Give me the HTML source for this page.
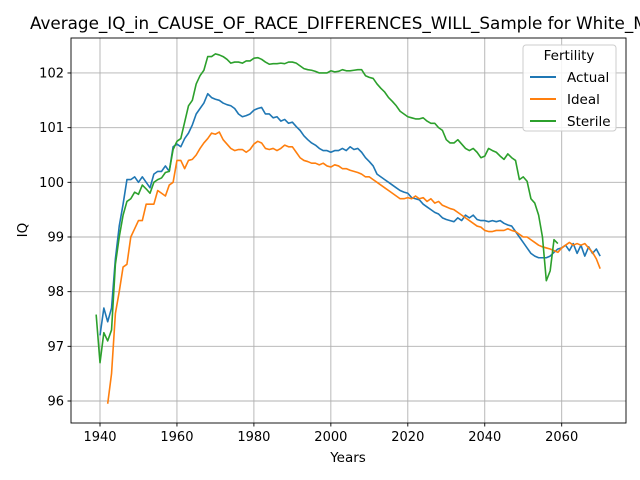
<!DOCTYPE html>
<html><head><meta charset="utf-8"><style>
body{margin:0;background:#fff;}
svg{display:block;font-family:"DejaVu Sans","Liberation Sans",sans-serif;}
</style></head><body>
<svg id="chart" width="640" height="480">
<rect width="640" height="480" fill="#fff"/>
<text x="30" y="29" font-size="16.8" fill="#000">Average_IQ_in_CAUSE_OF_RACE_DIFFERENCES_WILL_Sample for White_Male</text>
<g id="grid"></g>
<g id="ticks"></g>
<g id="lines"></g>
<rect x="71" y="38" width="555" height="385" fill="none" stroke="#000" stroke-width="0.9"/>
<text x="348" y="462" font-size="13.5" text-anchor="middle">Years</text>
<text x="27" y="230" font-size="13.5" text-anchor="middle" transform="rotate(-90 27 230)">IQ</text>
<g>
<rect x="523" y="45" width="93" height="86" rx="3" fill="#fff" fill-opacity="0.85" stroke="#ccc"/>
<text x="569" y="60" font-size="13.5" text-anchor="middle">Fertility</text>
<g><line x1="530" x2="556" y1="77" y2="77" stroke="#1f77b4" stroke-width="2"/><text x="567" y="82" font-size="13.5">Actual</text></g>
<g><line x1="530" x2="556" y1="99" y2="99" stroke="#ff7f0e" stroke-width="2"/><text x="567" y="104" font-size="13.5">Ideal</text></g>
<g><line x1="530" x2="556" y1="121" y2="121" stroke="#2ca02c" stroke-width="2"/><text x="567" y="126" font-size="13.5">Sterile</text></g>
</g>
</svg>
<script>
const xTicks=[1940,1960,1980,2000,2020,2040,2060];
const yTicks=[96,97,98,99,100,101,102];
const actualStart=1940;
const actual=[97.2,97.7,97.45,97.7,98.6,99.2,99.6,100.05,100.05,100.1,100.0,100.1,100.0,99.9,100.15,100.2,100.2,100.3,100.2,100.65,100.7,100.65,100.8,100.9,101.05,101.25,101.35,101.45,101.62,101.55,101.52,101.5,101.45,101.42,101.4,101.35,101.25,101.2,101.22,101.25,101.32,101.35,101.37,101.25,101.25,101.18,101.2,101.12,101.15,101.08,101.1,101.02,100.95,100.85,100.78,100.72,100.68,100.62,100.58,100.58,100.55,100.58,100.58,100.62,100.58,100.65,100.6,100.62,100.55,100.45,100.38,100.3,100.15,100.1,100.05,100.0,99.95,99.9,99.85,99.82,99.8,99.72,99.7,99.68,99.6,99.55,99.5,99.45,99.42,99.35,99.32,99.3,99.28,99.35,99.3,99.4,99.35,99.4,99.32,99.3,99.3,99.28,99.3,99.28,99.3,99.25,99.22,99.2,99.1,99.0,98.9,98.8,98.7,98.65,98.62,98.62,98.62,98.65,98.72,98.78,98.8,98.85,98.75,98.88,98.7,98.85,98.65,98.82,98.7,98.78,98.65];
const idealStart=1942;
const ideal=[95.95,96.5,97.6,98.0,98.45,98.5,99.0,99.15,99.3,99.3,99.6,99.6,99.6,99.85,99.8,99.75,99.95,100.0,100.4,100.4,100.25,100.4,100.42,100.5,100.62,100.72,100.8,100.9,100.88,100.92,100.78,100.7,100.62,100.58,100.6,100.6,100.55,100.6,100.7,100.75,100.72,100.62,100.6,100.62,100.58,100.62,100.68,100.65,100.65,100.55,100.45,100.4,100.38,100.35,100.35,100.32,100.35,100.3,100.28,100.32,100.3,100.25,100.25,100.22,100.2,100.18,100.15,100.1,100.1,100.05,100.0,99.95,99.9,99.85,99.8,99.75,99.7,99.7,99.72,99.7,99.75,99.7,99.72,99.65,99.7,99.62,99.65,99.58,99.55,99.52,99.5,99.45,99.4,99.35,99.3,99.25,99.2,99.18,99.12,99.1,99.1,99.12,99.12,99.12,99.15,99.12,99.1,99.05,99.0,99.0,98.95,98.9,98.85,98.82,98.8,98.78,98.75,98.72,98.8,98.85,98.9,98.85,98.88,98.85,98.88,98.8,98.72,98.6,98.42];
const sterileStart=1939;
const sterile=[97.58,96.7,97.25,97.1,97.3,98.5,99.0,99.4,99.65,99.7,99.82,99.78,99.95,99.88,99.8,100.0,100.05,100.08,100.18,100.2,100.6,100.75,100.8,101.1,101.4,101.5,101.8,101.95,102.05,102.3,102.3,102.35,102.33,102.3,102.25,102.18,102.2,102.2,102.18,102.22,102.22,102.27,102.28,102.25,102.2,102.16,102.17,102.17,102.18,102.17,102.2,102.2,102.18,102.13,102.08,102.06,102.05,102.03,102.0,102.0,102.0,102.04,102.02,102.03,102.06,102.04,102.04,102.05,102.06,102.06,101.95,101.92,101.9,101.8,101.72,101.65,101.55,101.48,101.4,101.3,101.25,101.2,101.18,101.16,101.16,101.18,101.12,101.08,101.08,101.0,100.95,100.78,100.72,100.72,100.78,100.7,100.62,100.58,100.62,100.55,100.45,100.48,100.62,100.58,100.55,100.48,100.42,100.52,100.45,100.4,100.05,100.1,100.02,99.7,99.62,99.4,99.0,98.2,98.38,98.95,98.88];
const NS='http://www.w3.org/2000/svg';
const X=v=>100+(v-1940)*3.8475;
const Y=v=>401-(v-96)*54.67;
function mk(tag,attrs,parent){const e=document.createElementNS(NS,tag);for(const k in attrs)e.setAttribute(k,attrs[k]);parent.appendChild(e);return e;}
const grid=document.getElementById('grid'),ticks=document.getElementById('ticks'),lines=document.getElementById('lines');
xTicks.forEach(t=>{const x=X(t);
 const g=mk('line',{x1:x,x2:x,y1:38,y2:423,stroke:'#b0b0b0','stroke-width':0.9},grid);
 
 
 mk('line',{x1:x,x2:x,y1:423,y2:426.5,stroke:'#000','stroke-width':0.9},ticks);
 const tx=mk('text',{x:x,y:441,'font-size':13,'text-anchor':'middle'},ticks);tx.textContent=t;
 
 
});
yTicks.forEach(t=>{const y=Y(t);
 const g=mk('line',{x1:71,x2:626,y1:y,y2:y,stroke:'#b0b0b0','stroke-width':0.9},grid);
 
 
 mk('line',{x1:67.5,x2:71,y1:y,y2:y,stroke:'#000','stroke-width':0.9},ticks);
 const tx=mk('text',{x:64,y:y+4.5,'font-size':13,'text-anchor':'end'},ticks);tx.textContent=t;
 
 
});
function series(vals,start,color,name){
 const d=vals.map((v,i)=>(i?'L':'M')+X(start+i).toFixed(2)+','+Y(v).toFixed(2)).join('');
 const p=mk('path',{d:d,fill:'none',stroke:color,'stroke-width':1.6,'stroke-linejoin':'round'},lines);
 
 
}
series(actual,actualStart,'#1f77b4','actual-line');
series(ideal,idealStart,'#ff7f0e','ideal-line');
series(sterile,sterileStart,'#2ca02c','sterile-line');
</script>
</body></html>
